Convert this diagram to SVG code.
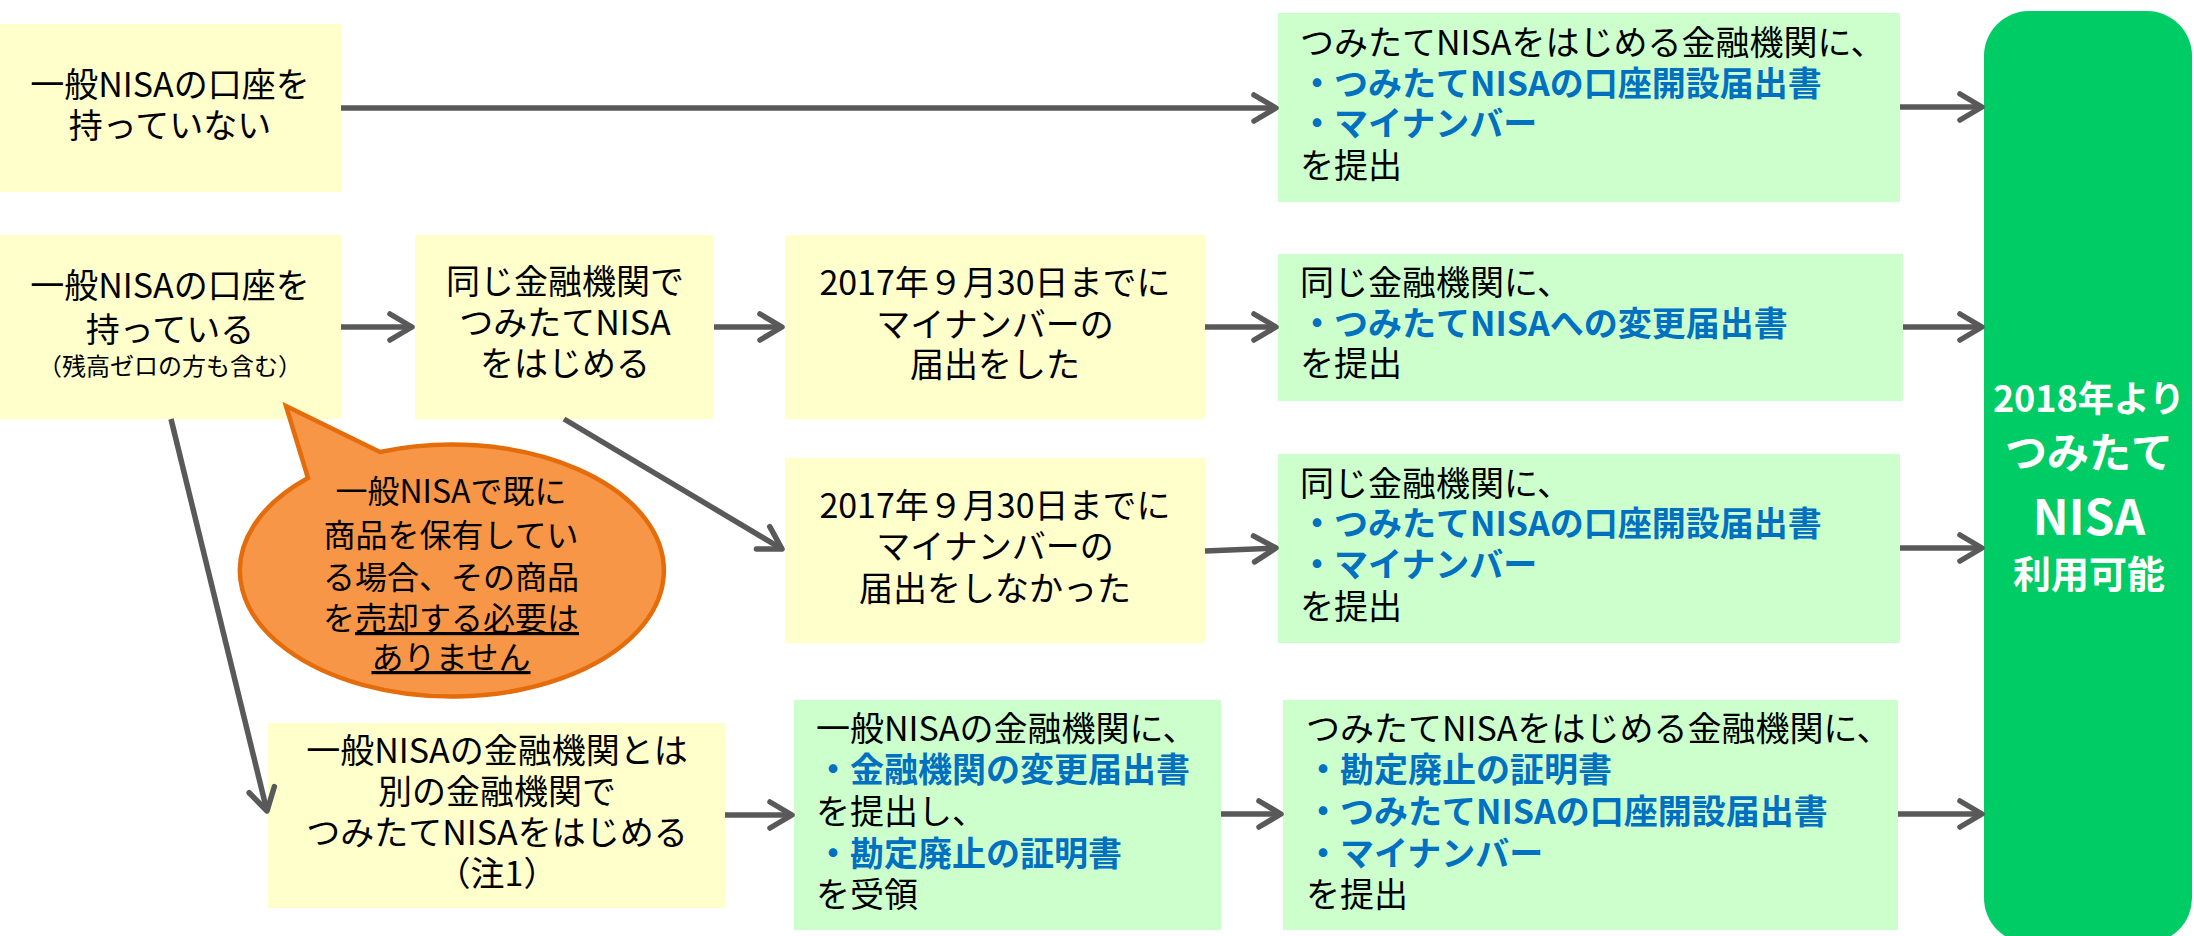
<svg xmlns="http://www.w3.org/2000/svg" width="2194" height="936" viewBox="0 0 2194 936">
<style>
text{font-family:"Noto Sans CJK JP","Noto Sans",sans-serif;fill:#000;}
.t{font-size:34px;}
.c{text-anchor:middle;}
.b{font-weight:bold;fill:#0070C0;}
.s{font-size:24px;}
.bb{font-size:32px;}
.w{fill:#fff;font-weight:bold;text-anchor:middle;}
.y{fill:#FFFFCC;}
.g{fill:#CCFFCC;}
.cn{stroke:#595959;stroke-width:5.5;fill:none;marker-end:url(#ah);}
</style>
<defs>
<marker id="ah" markerUnits="userSpaceOnUse" markerWidth="40" markerHeight="40" viewBox="-30 -20 40 40" refX="0" refY="0" orient="auto">
<path d="M-22 -13 L0 0 L-22 13" fill="none" stroke="#595959" stroke-width="5.5" stroke-linecap="round" stroke-linejoin="round"/>
</marker>
</defs>
<rect width="2194" height="936" fill="#fff"/>

<g id="nodeA"><rect class="y" x="0" y="24" width="341" height="168"/>
<text class="t c" x="170" y="97">一般NISAの口座を</text>
<text class="t c" x="170" y="138">持っていない</text></g>

<g id="nodeB"><rect class="y" x="0" y="235" width="341" height="184"/>
<text class="t c" x="170" y="298">一般NISAの口座を</text>
<text class="t c" x="170" y="342">持っている</text>
<text class="s c" x="170" y="375">（残高ゼロの方も含む）</text></g>

<g id="nodeC"><rect class="y" x="415" y="235" width="299" height="184"/>
<text class="t c" x="565" y="294">同じ金融機関で</text>
<text class="t c" x="565" y="335">つみたてNISA</text>
<text class="t c" x="565" y="376">をはじめる</text></g>

<g id="nodeD"><rect class="y" x="785" y="235" width="420" height="184"/>
<text class="t c" x="995" y="295">2017年９月30日までに</text>
<text class="t c" x="995" y="337">マイナンバーの</text>
<text class="t c" x="995" y="377">届出をした</text></g>

<g id="nodeE"><rect class="y" x="785" y="458" width="420" height="185"/>
<text class="t c" x="995" y="518">2017年９月30日までに</text>
<text class="t c" x="995" y="559">マイナンバーの</text>
<text class="t c" x="995" y="601">届出をしなかった</text></g>

<g id="nodeF"><rect class="y" x="268" y="723" width="457" height="185"/>
<text class="t c" x="497" y="763">一般NISAの金融機関とは</text>
<text class="t c" x="497" y="804">別の金融機関で</text>
<text class="t c" x="497" y="845">つみたてNISAをはじめる</text>
<text class="t c" x="497" y="886">（注1）</text></g>

<g id="nodeG1"><rect class="g" x="1278" y="13" width="622" height="189"/>
<text class="t" x="1300" y="55">つみたてNISAをはじめる金融機関に、</text>
<text class="t b" x="1300" y="96">・つみたてNISAの口座開設届出書</text>
<text class="t b" x="1300" y="136">・マイナンバー</text>
<text class="t" x="1300" y="178">を提出</text></g>

<g id="nodeG2"><rect class="g" x="1278" y="254" width="625" height="147"/>
<text class="t" x="1300" y="295">同じ金融機関に、</text>
<text class="t b" x="1300" y="336">・つみたてNISAへの変更届出書</text>
<text class="t" x="1300" y="376">を提出</text></g>

<g id="nodeG3"><rect class="g" x="1278" y="454" width="622" height="189"/>
<text class="t" x="1300" y="496">同じ金融機関に、</text>
<text class="t b" x="1300" y="536">・つみたてNISAの口座開設届出書</text>
<text class="t b" x="1300" y="577">・マイナンバー</text>
<text class="t" x="1300" y="619">を提出</text></g>

<g id="nodeG4"><rect class="g" x="794" y="700" width="427" height="230"/>
<text class="t" x="816" y="741">一般NISAの金融機関に、</text>
<text class="t b" x="816" y="782">・金融機関の変更届出書</text>
<text class="t" x="816" y="824">を提出し、</text>
<text class="t b" x="816" y="866">・勘定廃止の証明書</text>
<text class="t" x="816" y="907">を受領</text></g>

<g id="nodeG5"><rect class="g" x="1283" y="700" width="615" height="230"/>
<text class="t" x="1306" y="741">つみたてNISAをはじめる金融機関に、</text>
<text class="t b" x="1306" y="782">・勘定廃止の証明書</text>
<text class="t b" x="1306" y="824">・つみたてNISAの口座開設届出書</text>
<text class="t b" x="1306" y="866">・マイナンバー</text>
<text class="t" x="1306" y="907">を提出</text></g>

<g id="nodeResult"><rect x="1984" y="11" width="208" height="932" rx="45" ry="45" fill="#00CC66"/>
<text class="w" x="2089" y="412" font-size="36">2018年より</text>
<text class="w" x="2089" y="468" font-size="42">つみたて</text>
<text class="w" x="2089" y="535" font-size="48">NISA</text>
<text class="w" x="2089" y="588" font-size="38">利用可能</text></g>

<g id="connectors">
<path class="cn" d="M341 108 L1276 108"/>
<path class="cn" d="M341 327 L412 327"/>
<path class="cn" d="M714 327 L782 327"/>
<path class="cn" d="M1205 327 L1276 327"/>
<path class="cn" d="M564 419 L782 549"/>
<path class="cn" d="M1205 551 L1276 548"/>
<path class="cn" d="M171 419 L267 811"/>
<path class="cn" d="M725 815 L792 815"/>
<path class="cn" d="M1221 814 L1281 814"/>
<path class="cn" d="M1900 107 L1982 107"/>
<path class="cn" d="M1903 327 L1982 327"/>
<path class="cn" d="M1900 548 L1982 548"/>
<path class="cn" d="M1898 814 L1982 814"/>
</g>

<g id="callout">
<path d="M380 452 L286 406 L308 478 A212 126 0 1 0 380 452 Z" fill="#F79646" stroke="#E46C0A" stroke-width="4.5" stroke-linejoin="miter"/>
<text class="bb c" x="451" y="503">一般NISAで既に</text>
<text class="bb c" x="451" y="547">商品を保有してい</text>
<text class="bb c" x="451" y="589">る場合、その商品</text>
<text class="bb c" x="451" y="630">を<tspan text-decoration="underline">売却する必要は</tspan></text>
<text class="bb c" x="451" y="669" text-decoration="underline">ありません</text>
</g>
</svg>
